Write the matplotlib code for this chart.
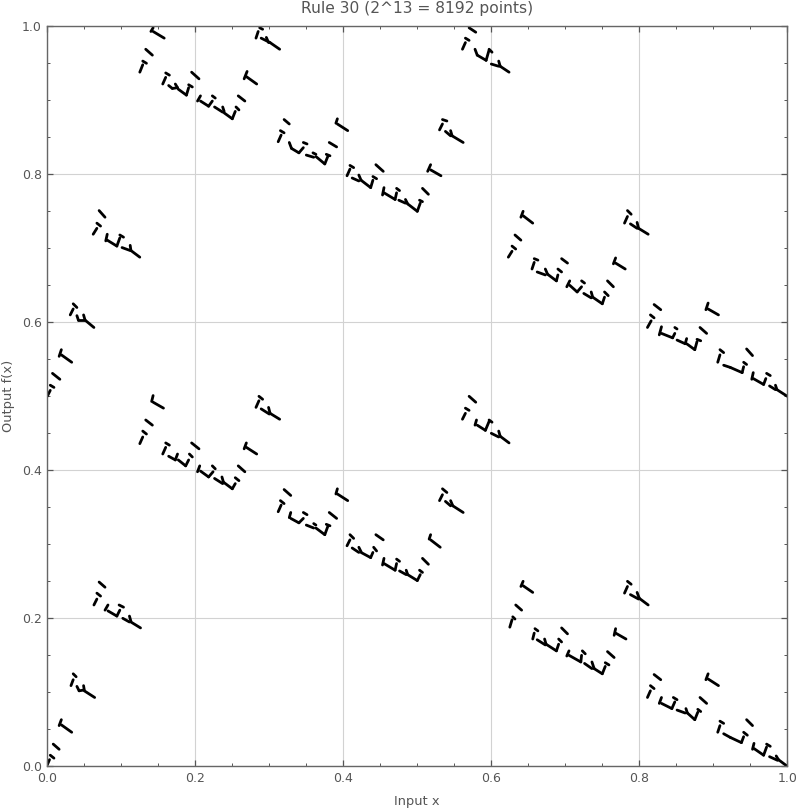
import numpy as np
import matplotlib
matplotlib.use('Agg')
import matplotlib.pyplot as plt
from matplotlib.ticker import MultipleLocator

title = 'Rule 30 (2^13 = 8192 points)'
xlabel = 'Input x'
ylabel = 'Output f(x)'

# values: each pair is the start and end of one dash of points
x_top_left = [.140,.143, .143,.158, .133,.142, .129,.134, .125,.129,
              .160,.165, .156,.160, .164,.169, .169,.176, .173,.176, .177,.188, .188,.191, .191,.196, .195,.205,
              .203,.207, .207,.218, .218,.223, .223,.227, .226,.237, .237,.239, .239,.250, .250,.254, .255,.259, .258,.267,
              .287,.291, .282,.285, .289,.301, .296,.299, .301,.314,
              .266,.270, .269,.283,
              .070,.078, .067,.072, .062,.067, .079,.081, .081,.094, .094,.098, .098,.103, .101,.112, .112,.113, .113,.125]
y_top_left = [.993,.998, .993,.984, .969,.961, .953,.950, .938,.948,
              .937,.934, .922,.931, .920,.916, .916,.917, .922,.917, .915,.907, .907,.917, .921,.918, .938,.929,
              .899,.906, .899,.892, .892,.899, .906,.903, .891,.884, .891,.885, .883,.875, .875,.885, .891,.887, .906,.899,
              .998,.996, .984,.993, .984,.978, .985,.978, .978,.969,
              .929,.939, .932,.922,
              .751,.742, .734,.730, .719,.727, .710,.719, .711,.703, .703,.714, .718,.715, .701,.697, .704,.697, .697,.688]

x_top_mid = [.320,.327, .315,.320, .312,.316,
             .327,.330, .330,.340, .340,.346, .346,.351, .350,.360, .359,.363, .363,.375, .375,.379, .377,.382, .381,.391,
             .390,.392, .392,.406,
             .405,.409, .409,.414, .412,.421, .421,.424, .424,.437, .437,.440, .440,.445, .444,.454,
             .453,.455, .455,.470, .470,.472, .472,.476, .475,.484, .484,.487, .487,.500, .500,.504, .503,.507, .507,.515,
             .514,.518, .518,.532,
             .530,.534, .534,.540, .538,.545, .545,.547, .547,.562,
             .570,.579, .565,.570, .561,.565, .578,.581, .581,.593, .593,.597, .597,.601, .600,.610, .610,.612, .612,.624]
y_top_mid = [.874,.868, .859,.856, .844,.853,
             .843,.835, .835,.829, .829,.836, .843,.841, .826,.823, .829,.827, .824,.814, .814,.824, .827,.825, .843,.837,
             .869,.875, .868,.859,
             .798,.807, .812,.809, .795,.791, .799,.792, .792,.782, .782,.792, .797,.794, .813,.804,
             .772,.782, .775,.766, .766,.775, .781,.778, .765,.761, .766,.760, .760,.750, .750,.761, .765,.763, .781,.773,
             .804,.813, .806,.798,
             .860,.868, .874,.872, .858,.852, .859,.852, .852,.843,
             .998,.992, .984,.981, .969,.978, .969,.961, .961,.954, .954,.968, .969,.965, .949,.946, .953,.946, .946,.938]

x_top_right = [.640,.643, .643,.656, .632,.640, .628,.633, .623,.628,
               .655,.658, .658,.663, .662,.673, .673,.676, .676,.688, .688,.690, .690,.695, .695,.703,
               .702,.706, .706,.716, .716,.722, .722,.726, .725,.735, .735,.737, .737,.750, .750,.753, .753,.758, .757,.765,
               .765,.768, .768,.781,
               .780,.784, .784,.789, .788,.797, .797,.799, .799,.812]
y_top_right = [.742,.750, .744,.734, .718,.711, .703,.699, .688,.696,
               .672,.681, .686,.684, .668,.664, .672,.665, .665,.656, .656,.664, .672,.668, .686,.680,
               .648,.656, .650,.641, .641,.648, .656,.653, .639,.633, .641,.634, .634,.625, .625,.634, .641,.636, .656,.648,
               .679,.687, .680,.672,
               .734,.743, .751,.746, .733,.727, .735,.727, .727,.719]

x_mid_right = [.820,.829, .815,.820, .811,.816,
               .827,.830, .830,.845, .845,.848, .848,.851, .851,.862, .862,.864, .864,.875, .875,.878, .878,.883, .882,.891,
               .890,.893, .893,.907,
               .906,.909, .909,.914, .914,.923, .923,.939, .939,.941, .941,.945, .945,.953,
               .952,.954, .954,.968, .968,.971, .972,.977, .976,.984, .984,.986, .986,1.000]
y_mid_right = [.624,.617, .610,.606, .593,.602,
               .583,.594, .585,.579, .579,.585, .593,.591, .576,.571, .571,.578, .571,.563, .563,.574, .577,.575, .593,.585,
               .617,.626, .618,.610,
               .546,.556, .563,.559, .542,.539, .539,.532, .532,.540, .546,.543, .564,.555,
               .523,.532, .524,.516, .516,.524, .531,.528, .514,.509, .515,.509, .509,.500]

x_mid_left = [.035,.040, .031,.035, .040,.042, .042,.049, .049,.051, .051,.063,
              .016,.019, .019,.033, .007,.017, .004,.009, .000,.004,
              .141,.143, .143,.157, .133,.142, .129,.134, .125,.129,
              .160,.165, .156,.160, .164,.173, .173,.176, .177,.187, .187,.191, .192,.196, .195,.205,
              .203,.206, .207,.218, .218,.224, .223,.227, .226,.237, .236,.238, .238,.250, .250,.254, .254,.259, .258,.267,
              .266,.269, .269,.283,
              .282,.286, .286,.291, .289,.300, .299,.301, .301,.314]
y_mid_left = [.625,.620, .610,.618, .609,.603, .603,.603, .610,.603, .603,.593,
              .554,.563, .556,.546, .531,.523, .515,.512, .500,.508,
              .493,.501, .492,.484, .468,.461, .453,.449, .436,.445,
              .437,.434, .422,.431, .419,.414, .414,.422, .414,.406, .406,.414, .422,.418, .437,.429,
              .398,.406, .399,.391, .391,.398, .406,.402, .389,.382, .391,.384, .384,.375, .375,.382, .390,.386, .406,.398,
              .429,.437, .431,.422,
              .485,.494, .500,.496, .483,.476, .485,.477, .477,.469]

x_mid_mid = [.320,.329, .315,.320, .312,.316,
             .327,.329, .329,.340, .340,.346, .346,.351, .350,.360, .360,.363, .363,.375, .375,.379, .377,.382, .381,.391,
             .390,.392, .392,.406,
             .405,.409, .409,.414, .412,.421, .421,.424, .424,.437, .437,.440, .441,.445, .444,.454,
             .453,.455, .455,.470, .470,.472, .472,.476, .476,.485, .485,.487, .487,.500, .500,.504, .503,.507, .507,.515,
             .516,.518, .518,.531,
             .530,.534, .534,.540, .538,.545, .545,.548, .548,.562,
             .570,.579, .565,.570, .561,.565, .578,.580, .581,.592, .592,.597, .597,.601, .600,.610, .610,.612, .612,.624]
y_mid_mid = [.374,.366, .359,.355, .344,.353,
             .336,.343, .335,.329, .329,.335, .343,.340, .326,.322, .328,.326, .322,.313, .313,.324, .327,.325, .343,.335,
             .368,.375, .368,.359,
             .298,.306, .313,.308, .295,.289, .296,.290, .289,.282, .282,.289, .296,.291, .313,.306,
             .272,.281, .274,.265, .265,.274, .280,.277, .264,.259, .265,.259, .259,.251, .251,.259, .265,.262, .281,.273,
             .307,.313, .306,.296,
             .359,.367, .375,.370, .358,.352, .359,.352, .352,.343,
             .500,.492, .484,.481, .469,.477, .461,.468, .461,.454, .454,.466, .468,.465, .450,.445, .453,.446, .446,.437]

x_low_right = [.640,.643, .643,.656, .633,.641, .629,.632, .625,.628,
               .656,.658, .659,.663, .662,.673, .672,.674, .674,.688, .688,.691, .691,.695, .695,.703,
               .702,.705, .705,.721, .721,.722, .723,.727, .726,.736, .736,.739, .739,.750, .750,.754, .754,.759, .757,.766,
               .766,.768, .768,.782,
               .780,.784, .784,.789, .788,.799, .797,.800, .800,.812,
               .820,.829, .815,.820, .811,.815,
               .827,.830, .830,.844, .844,.848, .846,.851, .851,.862, .863,.865, .865,.875, .875,.879, .879,.883, .882,.891,
               .890,.893, .893,.907,
               .906,.909, .909,.914, .914,.923, .923,.938, .938,.941, .941,.946, .945,.953,
               .953,.955, .955,.968, .968,.972, .972,.977, .976,.987, .985,.988, .988,1.000]
y_low_right = [.243,.250, .244,.235, .218,.211, .202,.199, .188,.198,
               .172,.180, .186,.183, .171,.164, .172,.165, .165,.156, .156,.165, .172,.168, .187,.179,
               .149,.156, .150,.141, .141,.150, .156,.152, .139,.132, .141,.132, .132,.125, .125,.135, .140,.137, .155,.147,
               .177,.186, .180,.172,
               .234,.243, .250,.246, .232,.226, .235,.227, .227,.218,
               .124,.117, .109,.105, .093,.102,
               .085,.093, .085,.078, .078,.087, .093,.090, .076,.072, .078,.072, .072,.063, .063,.073, .077,.074, .093,.085,
               .117,.125, .118,.109,
               .046,.055, .061,.058, .044,.039, .039,.032, .032,.040, .046,.042, .063,.055,
               .023,.031, .024,.015, .015,.026, .030,.027, .013,.008, .014,.009, .009,.000]

x_low_left = [.070,.078, .067,.072, .063,.067, .078,.082, .082,.094, .094,.098, .097,.103, .102,.111, .111,.113, .113,.126,
              .035,.039, .032,.035, .040,.043, .043,.049, .049,.050, .050,.064,
              .016,.019, .019,.033, .008,.016, .004,.009, .000,.003]
y_low_left = [.249,.242, .234,.230, .218,.226, .211,.218, .210,.203, .203,.211, .218,.215, .200,.195, .203,.196, .195,.187,
              .125,.121, .109,.117, .108,.102, .102,.103, .109,.103, .102,.093,
              .055,.063, .056,.046, .030,.023, .015,.011, .002,.009]

blocks = [(x_top_left, y_top_left), (x_top_mid, y_top_mid), (x_top_right, y_top_right),
          (x_mid_right, y_mid_right), (x_mid_left, y_mid_left), (x_mid_mid, y_mid_mid),
          (x_low_right, y_low_right), (x_low_left, y_low_left)]

fig = plt.figure(figsize=(8, 8.11), dpi=100)
ax = fig.add_axes([47.3/800, 1-766.3/811, 740/800, 740/811])

grey = '#555555'
ax.grid(True, which='major', color='#d2d2d2', lw=0.8)
ax.set_axisbelow(True)

for xs, ys in blocks:
    xs = np.array(xs).reshape(-1, 2)
    ys = np.array(ys).reshape(-1, 2)
    ax.plot(xs.T, ys.T, color='black', lw=2.0, solid_capstyle='round')

ax.set_xlim(0, 1)
ax.set_ylim(0, 1)
ax.xaxis.set_major_locator(MultipleLocator(0.2))
ax.yaxis.set_major_locator(MultipleLocator(0.2))
ax.xaxis.set_minor_locator(MultipleLocator(0.05))
ax.yaxis.set_minor_locator(MultipleLocator(0.05))
ax.tick_params(which='major', direction='in', length=4.5, width=0.9, color=grey, labelcolor=grey,
               labelsize=9, top=True, right=True, pad=4)
ax.tick_params(which='minor', direction='in', length=2.5, width=0.7, color=grey, top=True, right=True)
for s in ax.spines.values():
    s.set_color('#666666')
    s.set_linewidth(1.0)

ax.set_title(title, fontsize=11.2, color=grey, pad=9.5)
ax.set_xlabel(xlabel, fontsize=9.4, color=grey)
ax.set_ylabel(ylabel, fontsize=9.4, color=grey)
ax.xaxis.set_label_coords(0.5, -0.0385)
ax.yaxis.set_label_coords(-0.044, 0.5)

fig.savefig('out.png', dpi=100)
